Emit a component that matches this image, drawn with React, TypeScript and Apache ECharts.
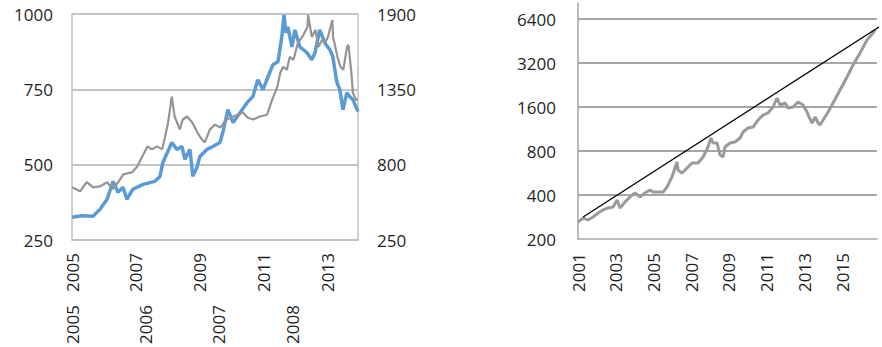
import React, { useEffect, useRef } from "react";
import * as echarts from "echarts";

// Left chart: blue series (right axis, top year row)
const blueYears = [2005.0, 2005.3, 2005.66, 2005.88, 2006.1, 2006.29, 2006.44, 2006.6, 2006.72, 2006.91, 2007.23, 2007.6, 2007.76, 2007.85, 2008.13, 2008.29, 2008.45, 2008.54, 2008.7, 2008.79, 2008.92, 2009.01, 2009.23, 2009.42, 2009.64, 2009.73, 2009.89, 2010.05, 2010.27, 2010.49, 2010.67, 2010.83, 2010.99, 2011.11, 2011.3, 2011.46, 2011.58, 2011.65, 2011.71, 2011.77, 2011.9, 2011.99, 2012.15, 2012.37, 2012.52, 2012.62, 2012.77, 2012.93, 2013.09, 2013.18, 2013.31, 2013.4, 2013.5, 2013.62, 2013.71, 2013.81, 2013.97];
const blueValues = [417, 428, 424, 475, 548, 679, 599, 635, 548, 621, 657, 679, 715, 817, 962, 912, 933, 839, 912, 715, 781, 861, 912, 933, 962, 1035, 1202, 1108, 1180, 1253, 1297, 1420, 1348, 1420, 1529, 1551, 1733, 1893, 1762, 1806, 1660, 1784, 1660, 1617, 1566, 1617, 1784, 1689, 1638, 1588, 1399, 1348, 1202, 1326, 1297, 1275, 1188];

// Left chart: gray series (left axis, bottom year row)
const grayYears = [2005.0, 2005.11, 2005.2, 2005.29, 2005.38, 2005.48, 2005.55, 2005.61, 2005.7, 2005.82, 2005.89, 2005.96, 2006.03, 2006.09, 2006.16, 2006.23, 2006.27, 2006.31, 2006.36, 2006.4, 2006.47, 2006.51, 2006.57, 2006.64, 2006.71, 2006.77, 2006.81, 2006.88, 2006.95, 2007.02, 2007.11, 2007.2, 2007.26, 2007.33, 2007.4, 2007.47, 2007.56, 2007.66, 2007.73, 2007.8, 2007.84, 2007.88, 2007.93, 2007.97, 2008.02, 2008.08, 2008.14, 2008.21, 2008.22, 2008.27, 2008.32, 2008.36, 2008.41, 2008.45, 2008.49, 2008.55, 2008.56, 2008.62, 2008.66, 2008.7, 2008.75, 2008.77, 2008.81, 2008.83, 2008.87, 2008.9];
const grayValues = [425, 412, 442, 425, 428, 442, 419, 435, 468, 475, 494, 528, 561, 551, 561, 551, 594, 640, 726, 660, 617, 650, 660, 640, 607, 584, 574, 617, 633, 623, 650, 660, 666, 673, 656, 650, 660, 666, 716, 759, 805, 825, 815, 858, 848, 904, 924, 957, 997, 924, 947, 891, 914, 904, 924, 980, 924, 858, 825, 815, 891, 898, 805, 739, 716, 716];

// Right chart: index series on log axis
const indexYears = [2001.0, 2001.27, 2001.53, 2001.8, 2002.06, 2002.33, 2002.59, 2002.86, 2003.07, 2003.23, 2003.49, 2003.76, 2004.02, 2004.29, 2004.55, 2004.82, 2004.98, 2005.35, 2005.51, 2005.72, 2005.98, 2006.25, 2006.3, 2006.51, 2006.78, 2007.04, 2007.36, 2007.63, 2007.89, 2008.05, 2008.16, 2008.37, 2008.53, 2008.69, 2008.79, 2009.06, 2009.32, 2009.59, 2009.75, 2010.01, 2010.28, 2010.54, 2010.81, 2011.07, 2011.34, 2011.55, 2011.71, 2011.98, 2012.13, 2012.4, 2012.66, 2012.93, 2013.14, 2013.25, 2013.41, 2013.57, 2013.73, 2013.83, 2013.99, 2014.26, 2014.52, 2014.89, 2015.26, 2015.58, 2015.95, 2016.32, 2016.64, 2016.75];
const indexValues = [261, 278, 270, 283, 301, 316, 326, 331, 370, 326, 358, 388, 413, 388, 413, 433, 419, 419, 419, 454, 531, 673, 593, 566, 612, 662, 662, 728, 852, 982, 908, 908, 751, 728, 852, 908, 922, 982, 1079, 1149, 1167, 1304, 1410, 1456, 1600, 1844, 1651, 1704, 1575, 1600, 1731, 1651, 1479, 1367, 1243, 1367, 1243, 1205, 1304, 1479, 1704, 2091, 2567, 3101, 3746, 4598, 5134, 5382];

// Right chart: straight trend line
const trendYears = [2001.27, 2017.12];
const trendValues = [283, 5824];

const FONT = "Open Sans";
const TEXT = "#1f1f1f";

const pairs = (xs: number[], ys: number[]) => xs.map((x, i) => [x, ys[i]]);

export default function App() {
  const ref = useRef<HTMLDivElement>(null);
  useEffect(() => {
    if (!ref.current) return;
    const chart = echarts.init(ref.current, undefined, { renderer: "svg" });
    const label = (margin: number, extra: any = {}) => ({
      fontFamily: FONT,
      fontSize: 17,
      color: TEXT,
      margin,
      formatter: (v: number) => String(Math.round(v)),
      ...extra,
    });
    chart.setOption({
      animation: false,
      backgroundColor: "#ffffff",
      grid: [
        { left: 72, top: 14, width: 286, height: 227, containLabel: false },
        { left: 578, top: 3, width: 299, height: 236, containLabel: false },
      ],
      xAxis: [
        {
          type: "value",
          gridIndex: 0,
          min: 2005,
          max: 2013.97,
          interval: 2,
          axisLine: { show: true, lineStyle: { color: "#bfbfbf", width: 1.5 } },
          axisTick: { show: false },
          splitLine: { show: false },
          axisLabel: label(13, { rotate: 90, showMaxLabel: false }),
        },
        {
          type: "value",
          gridIndex: 0,
          position: "bottom",
          offset: 52,
          min: 2005,
          max: 2008.9,
          interval: 1,
          axisLine: { show: false },
          axisTick: { show: false },
          splitLine: { show: false },
          axisLabel: label(13, { rotate: 90, showMaxLabel: false }),
        },
        {
          type: "value",
          gridIndex: 1,
          min: 2001,
          max: 2016.85,
          interval: 2,
          axisLine: { show: true, lineStyle: { color: "#a6a6a6", width: 1.5 } },
          axisTick: { show: false },
          splitLine: { show: false },
          axisLabel: label(14, { rotate: 90, showMaxLabel: false }),
        },
      ],
      yAxis: [
        {
          type: "value",
          gridIndex: 0,
          position: "left",
          min: 250,
          max: 1000,
          interval: 250,
          axisLine: { show: true, lineStyle: { color: "#bfbfbf", width: 1.5 } },
          axisTick: { show: false },
          splitLine: { show: true, lineStyle: { color: "#c4c4c4", width: 2 } },
          axisLabel: label(19),
        },
        {
          type: "value",
          gridIndex: 0,
          position: "right",
          min: 250,
          max: 1900,
          interval: 550,
          axisLine: { show: true, lineStyle: { color: "#bfbfbf", width: 1.5 } },
          axisTick: { show: false },
          splitLine: { show: false },
          axisLabel: label(19),
        },
        {
          type: "log",
          logBase: 2,
          gridIndex: 1,
          min: 200,
          max: 8234,
          interval: 1,
          axisLine: { show: true, lineStyle: { color: "#a6a6a6", width: 1.5 } },
          axisTick: { show: false },
          splitLine: { show: true, showMaxLine: false, showMinLine: false, lineStyle: { color: "#a6a6a6", width: 2 } },
          axisLabel: label(22, {
            showMaxLabel: false,
            formatter: (v: number) => String(Math.round(v / 100) * 100),
          }),
        },
      ],
      series: [
        {
          type: "line",
          xAxisIndex: 0,
          yAxisIndex: 1,
          data: pairs(blueYears, blueValues),
          showSymbol: false,
          lineStyle: { color: "#5b9bd5", width: 3.5 },
        },
        {
          type: "line",
          xAxisIndex: 1,
          yAxisIndex: 0,
          data: pairs(grayYears, grayValues),
          showSymbol: false,
          lineStyle: { color: "#949494", width: 2.2 },
        },
        {
          type: "line",
          xAxisIndex: 2,
          yAxisIndex: 2,
          data: pairs(indexYears, indexValues),
          showSymbol: false,
          lineStyle: { color: "#9a9a9a", width: 3 },
        },
        {
          type: "line",
          xAxisIndex: 2,
          yAxisIndex: 2,
          data: pairs(trendYears, trendValues),
          showSymbol: false,
          clip: false,
          lineStyle: { color: "#000000", width: 1.3 },
        },
      ],
    });
    return () => chart.dispose();
  }, []);
  return (
    <div
      ref={ref}
      style={{ position: "fixed", left: 0, top: 0, width: 882, height: 347, background: "#fff" }}
    />
  );
}
